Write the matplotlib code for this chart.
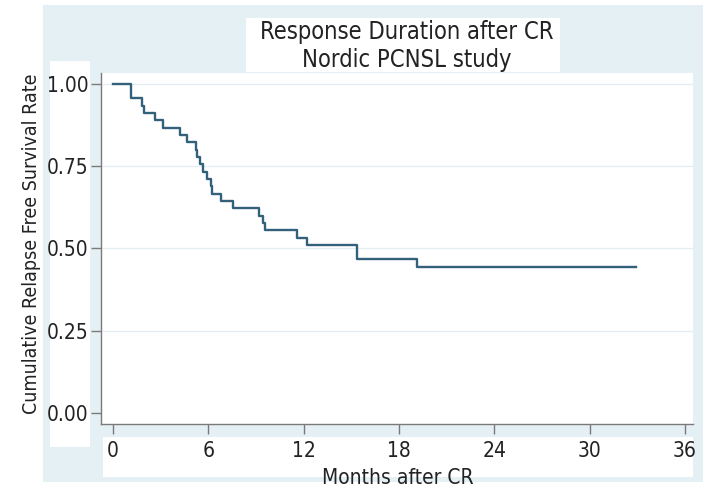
import matplotlib
matplotlib.use("Agg")
import matplotlib.pyplot as plt
from matplotlib.patches import Rectangle

# Kaplan-Meier steps (months, survival after the drop)
event_months = [0, 1.15, 1.80, 1.97, 2.64, 3.17, 4.22, 4.64, 5.22, 5.31, 5.48,
                5.68, 5.90, 6.15, 6.25, 6.78, 7.57, 9.21, 9.42, 9.57, 11.56,
                12.19, 15.34, 19.15]
survival = [1.0, 0.956, 0.933, 0.911, 0.889, 0.867, 0.844, 0.822, 0.800,
            0.778, 0.756, 0.733, 0.711, 0.689, 0.667, 0.644, 0.622, 0.600,
            0.578, 0.556, 0.533, 0.511, 0.467, 0.444]
last_followup = 32.9

xticks = [0, 6, 12, 18, 24, 30, 36]
yticks = [0.0, 0.25, 0.5, 0.75, 1.0]
ytick_labels = ["0.00", "0.25", "0.50", "0.75", "1.00"]

plt.rcParams['font.family'] = ['DejaVu Sans']
plt.rcParams['font.stretch'] = 'condensed'

W, H = 715, 493
bg = "#e5f0f4"
line_col = "#33607a"
axis_col = "#7a7a7a"

fig = plt.figure(figsize=(W / 100, H / 100), dpi=100)
fig.patch.set_facecolor("white")


def px_rect(x0, y0, x1, y1, color):
    fig.add_artist(Rectangle((x0 / W, 1 - y1 / H), (x1 - x0) / W, (y1 - y0) / H,
                             transform=fig.transFigure, facecolor=color,
                             edgecolor="none", zorder=0))


# stata-like framed regions
px_rect(43, 5, 703, 482, bg)
px_rect(246, 18, 560, 72, "white")
px_rect(50, 61, 90, 447, "white")
px_rect(103, 437, 693, 477, "white")

ax = fig.add_axes([101 / W, 1 - 424 / H, (693 - 101) / W, (424 - 73) / H])
ax.set_facecolor("white")

xs = event_months + [last_followup]
ys = survival + [survival[-1]]
ax.step(xs, ys, where="post", color=line_col, lw=1.7)

ax.set_xlim(-0.755, 36.5)
ax.set_ylim(-0.033, 1.033)
ax.set_xticks(xticks)
ax.set_yticks(yticks)
ax.set_yticklabels(ytick_labels)
for y in yticks[1:]:
    ax.axhline(y, color="#e3eef1", lw=0.9, zorder=0)

for side in ["top", "right"]:
    ax.spines[side].set_visible(False)
for side in ["left", "bottom"]:
    ax.spines[side].set_color(axis_col)
    ax.spines[side].set_linewidth(1.0)
ax.tick_params(axis="both", direction="out", length=7, width=1.0,
               color=axis_col, labelsize=15, labelcolor="#222222", pad=2)
ax.tick_params(axis="x", pad=5)

fig.text(407 / W, 1 - 32 / H, "Response Duration after CR", ha="center",
         va="center", fontsize=17, color="#222222")
fig.text(407 / W, 1 - 60 / H, "Nordic PCNSL study", ha="center",
         va="center", fontsize=17, color="#222222")
fig.text(398 / W, 1 - 478 / H, "Months after CR", ha="center", va="center",
         fontsize=15, color="#222222")
fig.text(32 / W, 1 - 244 / H, "Cumulative Relapse Free Survival Rate",
         ha="center", va="center", rotation=90, fontsize=14, color="#222222")

fig.savefig("out.png", dpi=100)
